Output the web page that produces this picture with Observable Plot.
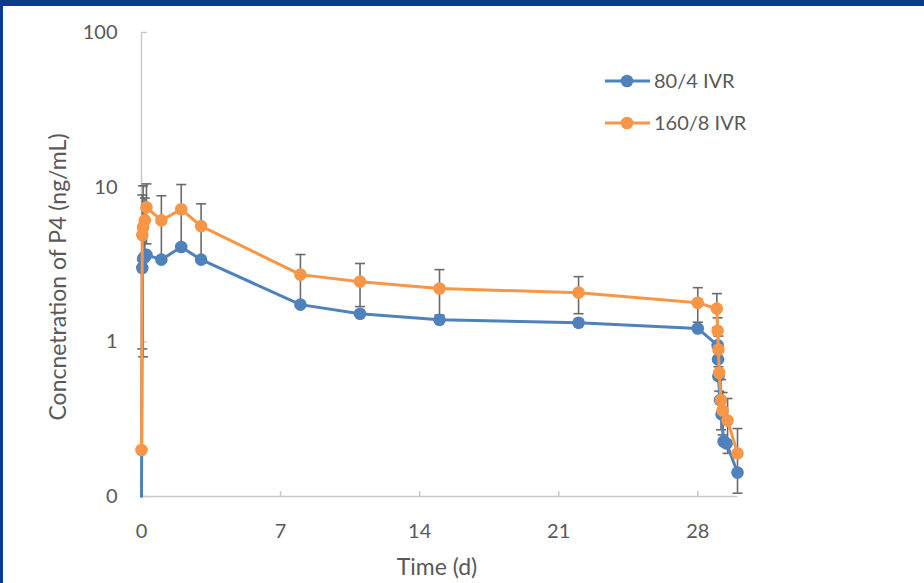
<!DOCTYPE html>
<html><head><meta charset="utf-8">
<script src="https://cdn.jsdelivr.net/npm/d3@7"></script>
<script src="https://cdn.jsdelivr.net/npm/@observablehq/plot@0.6"></script>
<style>
body{margin:0;background:#fff;}
#wrap{position:relative;width:924px;height:583px;overflow:hidden;font-family:Lato,sans-serif;background:#fff;}
.bt{position:absolute;left:0;top:0;width:924px;height:6px;background:#0c3a8d;}
.bl{position:absolute;left:0;top:0;width:3px;height:583px;background:#0c3a8d;}
</style></head>
<body><div id="wrap"><div id="chart"></div><div class="bt"></div><div class="bl"></div></div>
<script>
// ---- data ----
const seriesNames = ["80/4 IVR", "160/8 IVR"];
const seriesColors = ["#4F81BD", "#F79646"];

const time80 = [0, 0.04, 0.08, 0.17, 0.25, 1, 2, 3, 8, 11, 15, 22, 28, 29.0, 29.02, 29.04, 29.12, 29.2, 29.3, 29.45, 30];
const conc80 = [0, 3.0, 3.45, 3.55, 3.65, 3.4, 4.1, 3.4, 1.74, 1.52, 1.39, 1.33, 1.22, 0.95, 0.77, 0.6, 0.42, 0.34, 0.227, 0.22, 0.143];

const time160 = [0, 0.04, 0.08, 0.17, 0.25, 1, 2, 3, 8, 11, 15, 22, 28, 28.96, 29.0, 29.04, 29.08, 29.17, 29.25, 29.5, 30];
const conc160 = [0.2, 4.9, 5.5, 6.1, 7.4, 6.1, 7.2, 5.6, 2.72, 2.45, 2.21, 2.08, 1.79, 1.64, 1.18, 0.89, 0.63, 0.42, 0.36, 0.31, 0.19];
const sd160   = [0, 4.0, 4.7, 2.4, 3.1, 2.7, 3.2, 2.2, 0.95, 0.76, 0.72, 0.56, 0.45, 0.41, 0.25, 0.2, 0.15, 0.15, 0.11, 0.12, 0.085];

const xTicks = [0, 7, 14, 21, 28];
const xDomain = [0, 30];
const yTicks = [0.1, 1, 10, 100];
const yTickLabels = ["0", "1", "10", "100"];
const xTitle = "Time (d)";
const yTitle = "Concnetration of P4 (ng/mL)";

// ---- build tables ----
const yFloor = yTicks[0];
const s80 = time80.map((t, i) => ({t, v: conc80[i]}));
const s160 = time160.map((t, i) => ({t, v: conc160[i], sd: sd160[i]}));
const bars = s160.filter(d => d.sd > 0).map(d => ({t: d.t, lo: Math.max(d.v - d.sd, yFloor), hi: d.v + d.sd}));
const yv = d => Math.max(d.v, yFloor);

const W = 924, H = 583;
const mL = 141, mR = 187, mT = 32, mB = 87;
const innerW = W - mL - mR, innerH = H - mT - mB;
const grey = "#595959", axisGrey = "#c9c9c9", barGrey = "#6a6a6a";

const capSymbol = {draw(ctx) { ctx.moveTo(-5, 0); ctx.lineTo(5, 0); }};

const chart = Plot.plot({
  width: W, height: H,
  marginLeft: mL, marginRight: mR, marginTop: mT, marginBottom: mB,
  style: {fontFamily: "Lato, sans-serif", fontSize: "20px", color: grey, background: "transparent"},
  x: {domain: xDomain},
  y: {type: "log", domain: [yTicks[0], yTicks[yTicks.length - 1]]},
  marks: [
    Plot.ruleX([xDomain[0]], {stroke: axisGrey, strokeWidth: 1.5}),
    Plot.ruleY([yFloor], {stroke: axisGrey, strokeWidth: 1.5}),
    Plot.tickX(xTicks, {x: d => d, insetTop: innerH - 5, stroke: axisGrey, strokeWidth: 1.5}),
    Plot.tickY(yTicks, {y: d => d, insetRight: innerW - 6, stroke: axisGrey, strokeWidth: 1.5}),
    Plot.axisX({ticks: xTicks, tickSize: 0, tickPadding: 27, label: null, fontSize: 20}),
    Plot.axisY({ticks: yTicks, tickSize: 0, tickPadding: 24, label: null, fontSize: 20,
      tickFormat: d => yTickLabels[yTicks.indexOf(d)]}),
    // error bars (160/8 IVR)
    Plot.ruleX(bars, {x: "t", y1: "lo", y2: "hi", stroke: barGrey, strokeWidth: 1.6}),
    Plot.dot(bars, {x: "t", y: "hi", symbol: capSymbol, stroke: barGrey, strokeWidth: 1.6, fill: "none"}),
    Plot.dot(bars, {x: "t", y: "lo", symbol: capSymbol, stroke: barGrey, strokeWidth: 1.6, fill: "none"}),
    // 80/4 IVR
    Plot.line(s80, {x: "t", y: yv, stroke: seriesColors[0], strokeWidth: 3, curve: "linear"}),
    Plot.dot(s80.filter(d => d.v > 0), {x: "t", y: "v", r: 6.3, fill: seriesColors[0], stroke: "none"}),
    // 160/8 IVR
    Plot.line(s160, {x: "t", y: yv, stroke: seriesColors[1], strokeWidth: 3, curve: "linear"}),
    Plot.dot(s160.filter(d => d.v > 0), {x: "t", y: "v", r: 6.3, fill: seriesColors[1], stroke: "none"})
  ]
});
document.getElementById("chart").appendChild(chart);

// ---- titles and legend ----
const svg = d3.select(chart);
svg.append("text").attr("x", mL + innerW / 2 - 2).attr("y", 575)
  .attr("text-anchor", "middle").attr("fill", grey)
  .style("font-family", "Lato, sans-serif").style("font-size", "23px").text(xTitle);
svg.append("text").attr("transform", "translate(66,277) rotate(-90)")
  .attr("text-anchor", "middle").attr("fill", grey)
  .style("font-family", "Lato, sans-serif").style("font-size", "23px").text(yTitle);

const lg = svg.append("g");
seriesNames.forEach((name, i) => {
  const y = 81 + i * 42;
  lg.append("line").attr("x1", 605).attr("x2", 650).attr("y1", y).attr("y2", y)
    .attr("stroke", seriesColors[i]).attr("stroke-width", 3);
  lg.append("circle").attr("cx", 627).attr("cy", y).attr("r", 6.3).attr("fill", seriesColors[i]);
  lg.append("text").attr("x", 654).attr("y", y).attr("dy", "0.35em").attr("fill", grey)
    .attr("text-anchor", "start")
    .style("font-family", "Lato, sans-serif").style("font-size", "20px").text(name);
});
</script>
</body></html>
